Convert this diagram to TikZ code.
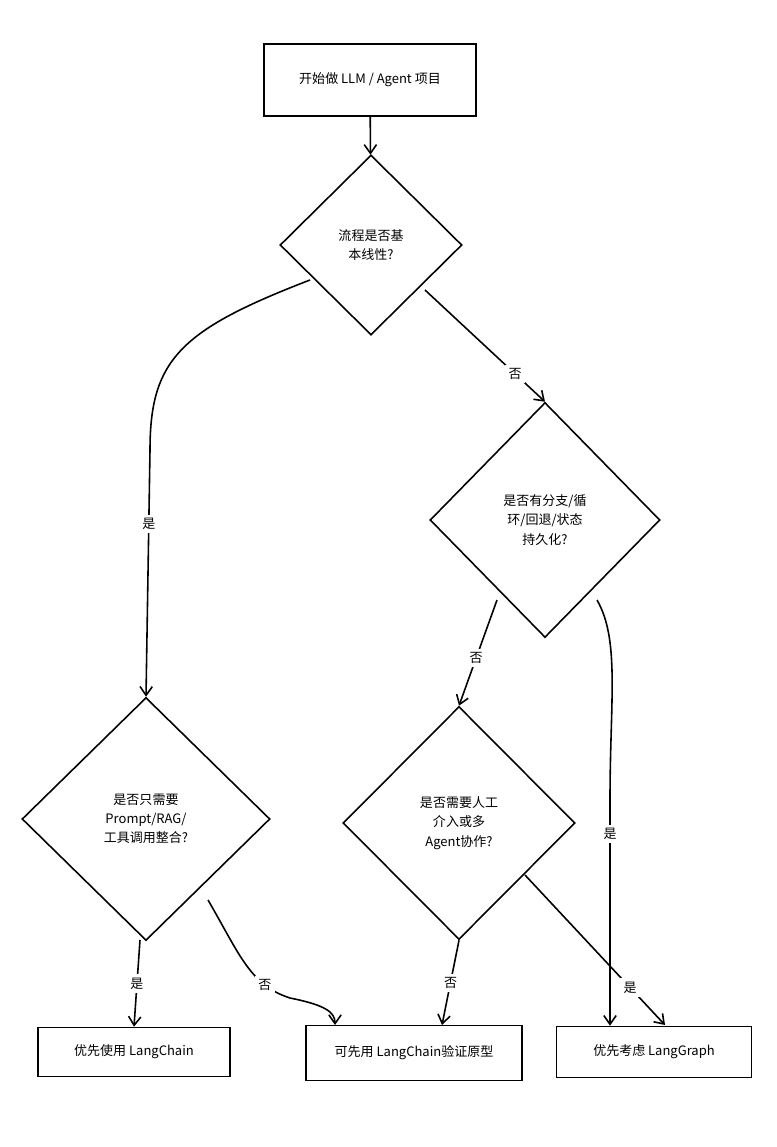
\documentclass[tikz,border=0pt]{standalone}
\usepackage{fontspec}
\setmainfont{Noto Sans CJK SC}
\usetikzlibrary{shapes.geometric,arrows.meta}
\begin{document}
\begin{tikzpicture}[x=0.02cm,y=-0.02cm,
  every node/.style={font=\fontsize{7.4}{11}\selectfont},
  box/.style={draw,line width=0.9pt,align=center,inner sep=0pt},
  dia/.style={draw,diamond,line width=0.9pt,align=center,inner sep=0pt},
  arr/.style={line width=0.9pt,-{Straight Barb[length=5pt,width=7pt]}},
  lab/.style={fill=white,inner sep=2pt}]
\useasboundingbox (0,0) rectangle (777,1147);
\node[box,minimum width=212*0.02cm,minimum height=72*0.02cm] (s) at (370,80) {开始做 LLM / Agent 项目};
\node[dia,minimum width=182*0.02cm,minimum height=180*0.02cm] (d1) at (371,245) {流程是否基\\本线性?};
\node[dia,minimum width=230*0.02cm,minimum height=235*0.02cm] (d2) at (545,520) {是否有分支/循\\环/回退/状态\\持久化?};
\node[dia,minimum width=248*0.02cm,minimum height=243*0.02cm] (d3) at (146,819) {是否只需要\\Prompt/RAG/\\工具调用整合?};
\node[dia,minimum width=232*0.02cm,minimum height=233*0.02cm] (d4) at (459,823) {是否需要人工\\介入或多\\Agent协作?};
\node[box,minimum width=192*0.02cm,minimum height=49*0.02cm] (b1) at (134,1052) {优先使用 LangChain};
\node[box,minimum width=216*0.02cm,minimum height=55*0.02cm] (b2) at (414,1053) {可先用 LangChain验证原型};
\node[box,minimum width=195*0.02cm,minimum height=51*0.02cm] (b3) at (654,1052) {优先考虑 LangGraph};
\coordinate (p1) at (310,280);
\coordinate (p2) at (425,290);
\coordinate (p3) at (497,600);
\coordinate (p4) at (597,600);
\coordinate (p5) at (140,940);
\coordinate (p6) at (208,900);
\coordinate (p7) at (525,875);
\draw[arr] (s) -- (d1);
\draw[arr] (p1) .. controls (180,330) and (150,360) .. (150,450) -- (d3.north) node[lab,pos=0.3] {是};
\draw[arr] (p2) -- (d2.north) node[lab,pos=0.75] {否};
\draw[arr] (p3) -- (d4.north) node[lab,pos=0.55] {否};
\draw[arr] (p4) .. controls (620,640) and (610,700) .. (610,800) -- (b3.north-|610,0) node[lab,pos=0.15] {是};
\draw[arr] (p5) -- (b1.north) node[lab,pos=0.5] {是};
\draw[arr] (p6) .. controls (240,955) and (250,985) .. (290,998) node[lab,pos=0.75] {否} .. controls (325,1005) and (335,1012) .. (335,1025);
\draw[arr] (d4.south) -- (442,1025) node[lab,pos=0.5] {否};
\draw[arr] (p7) -- (665,1025) node[lab,pos=0.75] {是};
\end{tikzpicture}
\end{document}
